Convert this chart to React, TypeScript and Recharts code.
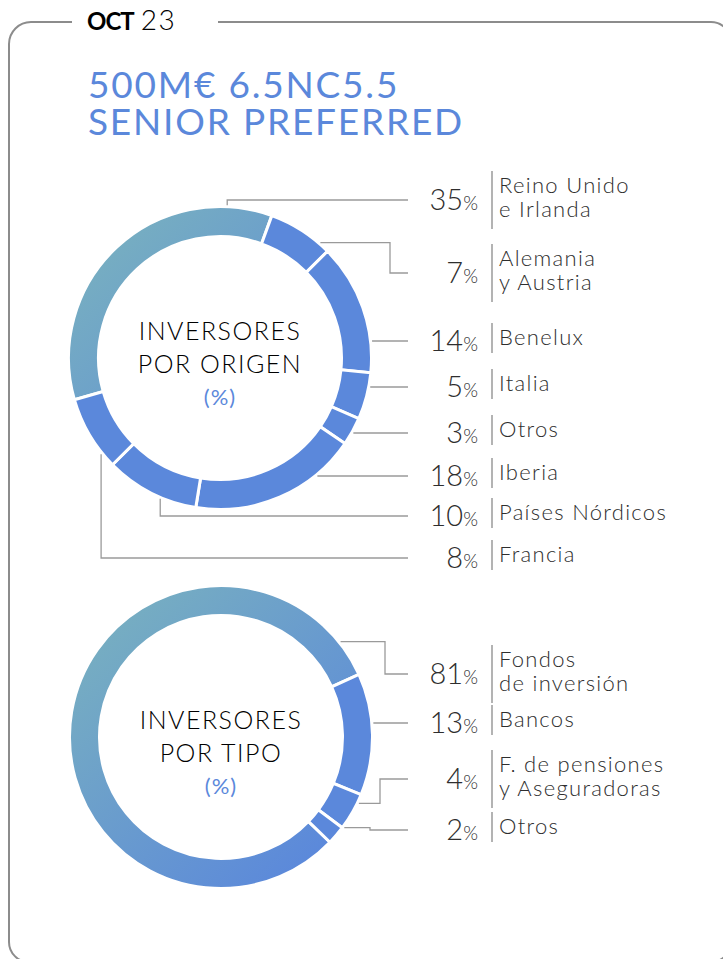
import React from "react";
import { PieChart, Pie, Cell } from "recharts";

// data
const origenLabels = [
  ["Reino Unido", "e Irlanda"],
  ["Alemania", "y Austria"],
  ["Benelux"],
  ["Italia"],
  ["Otros"],
  ["Iberia"],
  ["Países Nórdicos"],
  ["Francia"],
];
const origenValues = [35, 7, 14, 5, 3, 18, 10, 8];

const tipoLabels = [
  ["Fondos", "de inversión"],
  ["Bancos"],
  ["F. de pensiones", "y Aseguradoras"],
  ["Otros"],
];
const tipoValues = [81, 13, 4, 2];

// layout (row centre y of each label, leader line shape)
const origenRows = [200, 273, 341, 387, 433, 476, 516, 558];
const origenLeaders = [
  { mode: "v", angle: 2.7 },
  { mode: "elbow", angle: 41, elbowX: 390 },
  { mode: "h" },
  { mode: "h" },
  { mode: "h" },
  { mode: "h" },
  { mode: "v", angle: 203 },
  { mode: "v", angle: 231 },
];
const tipoRows = [674, 723, 779, 830];
const tipoLeaders = [
  { mode: "elbow", angle: 51.4, elbowX: 385 },
  { mode: "h" },
  { mode: "elbow", angle: 115.7, elbowX: 380 },
  { mode: "elbow", angle: 126.3, elbowX: 370 },
];

const BLUE = "#5b88db";
const TEXT = "#2e2e2e";
const GREY = "#9a9a9a";
const FONT = "Lato, 'Noto Sans', sans-serif";
const RING = 150;
const LINE_END = 408;

const origenData = origenValues.map((v, i) => ({ name: origenLabels[i].join(" "), value: v }));
const tipoData = tipoValues.map((v, i) => ({ name: tipoLabels[i].join(" "), value: v }));

const makeLabel = (labels: string[][], values: number[], rows: number[], leaders: any[]) => (props: any) => {
  const { cx, cy, index } = props;
  const y = rows[index];
  const lead = leaders[index];
  const r = RING + 3;
  let d = "";
  if (lead.mode === "h") {
    const dy = y - cy;
    const x0 = cx + Math.sqrt(r * r - dy * dy);
    d = `M${x0},${y}H${LINE_END}`;
  } else {
    const a = (lead.angle * Math.PI) / 180;
    const x0 = cx + r * Math.sin(a);
    const y0 = cy - r * Math.cos(a);
    d = lead.mode === "v" ? `M${x0},${y0}V${y}H${LINE_END}` : `M${x0},${y0}H${lead.elbowX}V${y}H${LINE_END}`;
  }
  const lines = labels[index];
  const two = lines.length > 1;
  return (
    <g key={`lbl-${index}`}>
      <path d={d} fill="none" stroke={GREY} strokeWidth={1.3} />
      <text x={478} y={y + 10} textAnchor="end" fill={TEXT} fontFamily={FONT} fontWeight={300}>
        <tspan fontSize={29}>{values[index]}</tspan>
        <tspan fontSize={19}>%</tspan>
      </text>
      <line x1={492} x2={492} y1={two ? y - 29 : y - 18} y2={two ? y + 29 : y + 12} stroke={GREY} strokeWidth={1.5} />
      {two ? (
        <text x={499} fill={TEXT} fontFamily={FONT} fontWeight={300} fontSize={22} letterSpacing={1.3}>
          <tspan x={499} y={y - 7}>{lines[0]}</tspan>
          <tspan x={499} y={y + 17}>{lines[1]}</tspan>
        </text>
      ) : (
        <text x={499} y={y + 4} fill={TEXT} fontFamily={FONT} fontWeight={300} fontSize={22} letterSpacing={1.3}>
          {lines[0]}
        </text>
      )}
    </g>
  );
};

const CenterText = ({ x, y, l1, l2 }: { x: number; y: number; l1: string; l2: string }) => (
  <g fontFamily={FONT} textAnchor="middle">
    <text x={x} y={y} fontSize={25} fill="#000" fontWeight={300} letterSpacing={1.5}>{l1}</text>
    <text x={x} y={y + 33} fontSize={25} fill="#000" fontWeight={300} letterSpacing={1.5}>{l2}</text>
    <text x={x} y={y + 65} fontSize={22} fill={BLUE} fontWeight={400} letterSpacing={1}>(%)</text>
  </g>
);

export default function App() {
  return (
    <div style={{ position: "absolute", left: 0, top: 0, width: 723, height: 959, background: "#fff", overflow: "hidden" }}>
      <svg width={723} height={959} style={{ position: "absolute", left: 0, top: 0 }}>
        <path
          d="M72,22 H31 A22,22 0 0 0 9,44 V942 A20,20 0 0 0 29,962 H711 A20,20 0 0 0 731,942 V42 A20,20 0 0 0 711,22 H218"
          fill="none"
          stroke="#8c8c8c"
          strokeWidth={2}
        />
        <text x={87} y={30} fontFamily={FONT} fontSize={24} fill="#000">
          <tspan fontWeight={700} letterSpacing={-1}>OCT</tspan>
          <tspan dx={7} fontWeight={300} fontSize={28} letterSpacing={1.5}>23</tspan>
        </text>
        <text x={88} y={98} fontFamily={FONT} fontSize={37} fill={BLUE} letterSpacing={1.8}>500M€ 6.5NC5.5</text>
        <text x={88} y={135} fontFamily={FONT} fontSize={37} fill={BLUE} letterSpacing={1.8}>SENIOR PREFERRED</text>
      </svg>
      <PieChart width={723} height={959} margin={{ top: 0, right: 0, bottom: 0, left: 0 }} style={{ position: "absolute", left: 0, top: 0 }}>
        <defs>
          <linearGradient id="tealBlue" gradientUnits="userSpaceOnUse" x1={70} y1={208} x2={330} y2={470}>
            <stop offset="0" stopColor="#7bb4bd" />
            <stop offset="1" stopColor={BLUE} />
          </linearGradient>
          <linearGradient id="tealBlue2" gradientUnits="userSpaceOnUse" x1={70} y1={587} x2={330} y2={850}>
            <stop offset="0" stopColor="#7bb4bd" />
            <stop offset="1" stopColor={BLUE} />
          </linearGradient>
        </defs>
        <Pie
          data={origenData}
          dataKey="value"
          nameKey="name"
          cx={220}
          cy={358}
          innerRadius={121.5}
          outerRadius={151.5}
          startAngle={196}
          endAngle={-164}
          stroke="#fff"
          strokeWidth={3}
          isAnimationActive={false}
          labelLine={false}
          label={makeLabel(origenLabels, origenValues, origenRows, origenLeaders)}
        >
          {origenData.map((_, i) => (
            <Cell key={i} fill={i === 0 ? "url(#tealBlue)" : BLUE} />
          ))}
        </Pie>
        <Pie
          data={tipoData}
          dataKey="value"
          nameKey="name"
          cx={221}
          cy={737}
          innerRadius={121.5}
          outerRadius={151.5}
          startAngle={-44}
          endAngle={-404}
          stroke="#fff"
          strokeWidth={3}
          isAnimationActive={false}
          labelLine={false}
          label={makeLabel(tipoLabels, tipoValues, tipoRows, tipoLeaders)}
        >
          {tipoData.map((_, i) => (
            <Cell key={i} fill={i === 0 ? "url(#tealBlue2)" : BLUE} />
          ))}
        </Pie>
      </PieChart>
      <svg width={723} height={959} style={{ position: "absolute", left: 0, top: 0, pointerEvents: "none" }}>
        <CenterText x={220} y={340} l1="INVERSORES" l2="POR ORIGEN" />
        <CenterText x={221} y={729} l1="INVERSORES" l2="POR TIPO" />
      </svg>
    </div>
  );
}
